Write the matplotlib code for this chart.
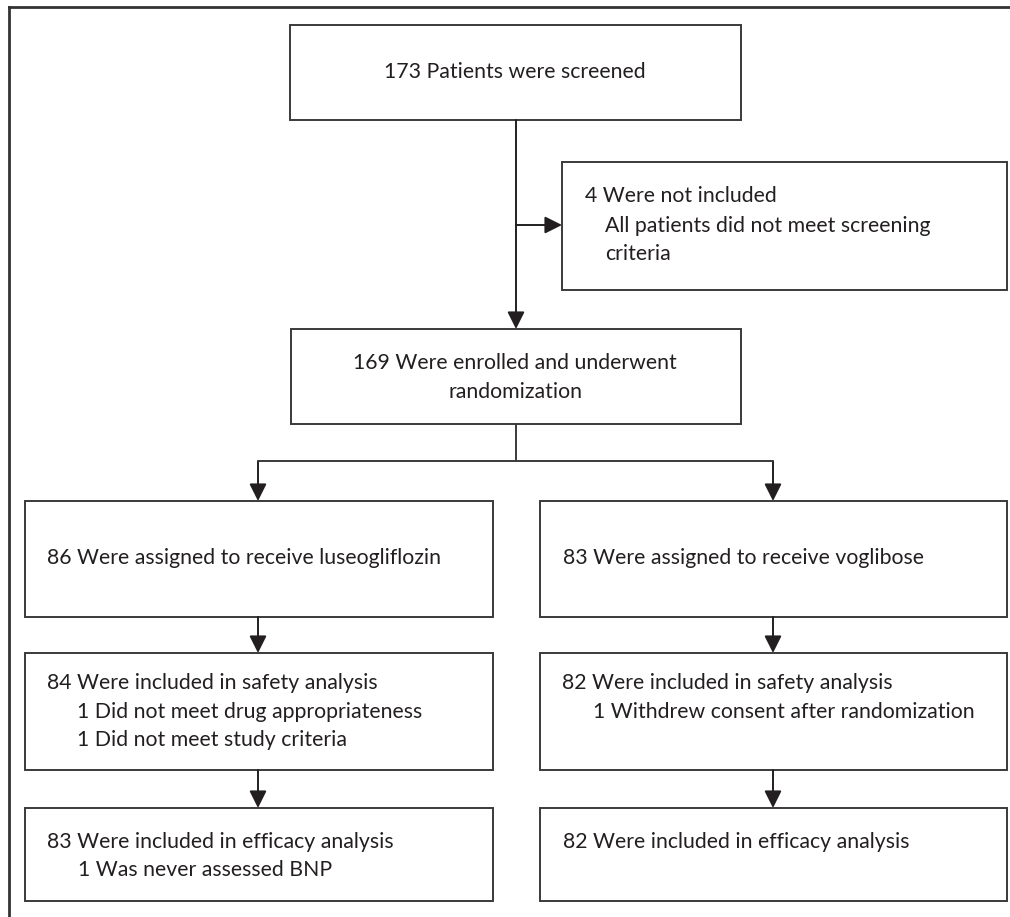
import matplotlib
matplotlib.use("Agg")
import matplotlib.pyplot as plt
from matplotlib.patches import Rectangle, FancyArrowPatch
from matplotlib.lines import Line2D

# ---- content ----
screened_text = ["173 Patients were screened"]
excluded_text = ["4 Were not included", "All patients did not meet screening", "criteria"]
enrolled_text = ["169 Were enrolled and underwent", "randomization"]
arm_left_assign = ["86 Were assigned to receive luseogliflozin"]
arm_right_assign = ["83 Were assigned to receive voglibose"]
arm_left_safety = ["84 Were included in safety analysis",
                   "1 Did not meet drug appropriateness",
                   "1 Did not meet study criteria"]
arm_right_safety = ["82 Were included in safety analysis",
                    "1 Withdrew consent after randomization"]
arm_left_eff = ["83 Were included in efficacy analysis", "1 Was never assessed BNP"]
arm_right_eff = ["82 Were included in efficacy analysis"]

W, H = 1010, 917
fig = plt.figure(figsize=(W / 100, H / 100), dpi=100)
ax = fig.add_axes([0, 0, 1, 1])
ax.set_xlim(0, W)
ax.set_ylim(H, 0)
ax.axis("off")

FONT = "Lato"
TXT = "#231f20"
LC = "#3a3a3a"
LW = 1.4

# fit font size so reference string matches measured width
ref = arm_left_safety[0]
t = ax.text(0, 0, ref, fontsize=14, family=FONT)
fig.canvas.draw()
bb = t.get_window_extent()
fs = 14 * 331.0 / bb.width
t.remove()

# outer frame (top and left visible)
ax.add_line(Line2D([9, 9], [7, H + 5], color="#333333", lw=2.0))
ax.add_line(Line2D([9, W + 5], [7, 7], color="#333333", lw=2.0))


def box(x0, y0, x1, y1):
    ax.add_patch(Rectangle((x0, y0), x1 - x0, y1 - y0, fill=False,
                           edgecolor=LC, lw=LW))


def line(xs, ys):
    ax.add_line(Line2D(xs, ys, color=LC, lw=LW, solid_capstyle="butt"))


def arrow(x0, y0, x1, y1):
    ax.add_patch(FancyArrowPatch((x0, y0), (x1, y1), arrowstyle="-|>",
                                 mutation_scale=26, color="#231f20", lw=LW,
                                 shrinkA=0, shrinkB=0))


def txt(x, y, s, ha="left"):
    ax.text(x, y, s, fontsize=fs, family=FONT, color=TXT, ha=ha, va="center")


# boxes
box(290, 25, 741, 120)
box(562, 162, 1007, 290)
box(291, 329, 741, 424)
box(25, 501, 493, 617)
box(540, 501, 1007, 617)
box(25, 653, 493, 770)
box(540, 653, 1007, 770)
box(25, 808, 493, 901)
box(540, 808, 1007, 901)

# connectors
arrow(516, 120, 516, 329)
arrow(516, 225, 562, 225)
line([516, 516], [424, 461])
line([258, 773], [461, 461])
arrow(258, 461, 258, 501)
arrow(773, 461, 773, 501)
arrow(258, 617, 258, 653)
arrow(773, 617, 773, 653)
arrow(258, 770, 258, 808)
arrow(773, 770, 773, 808)

# texts
txt(515, 72, screened_text[0], ha="center")
txt(585, 196, excluded_text[0])
txt(605, 226, excluded_text[1])
txt(605, 254, excluded_text[2])
txt(515, 363, enrolled_text[0], ha="center")
txt(515, 392, enrolled_text[1], ha="center")
txt(47, 558, arm_left_assign[0])
txt(563, 558, arm_right_assign[0])
txt(47, 683, arm_left_safety[0])
txt(77, 712, arm_left_safety[1])
txt(77, 740, arm_left_safety[2])
txt(562, 683, arm_right_safety[0])
txt(593, 712, arm_right_safety[1])
txt(47, 842, arm_left_eff[0])
txt(78, 870, arm_left_eff[1])
txt(563, 842, arm_right_eff[0])

fig.savefig("out.png", dpi=100)
